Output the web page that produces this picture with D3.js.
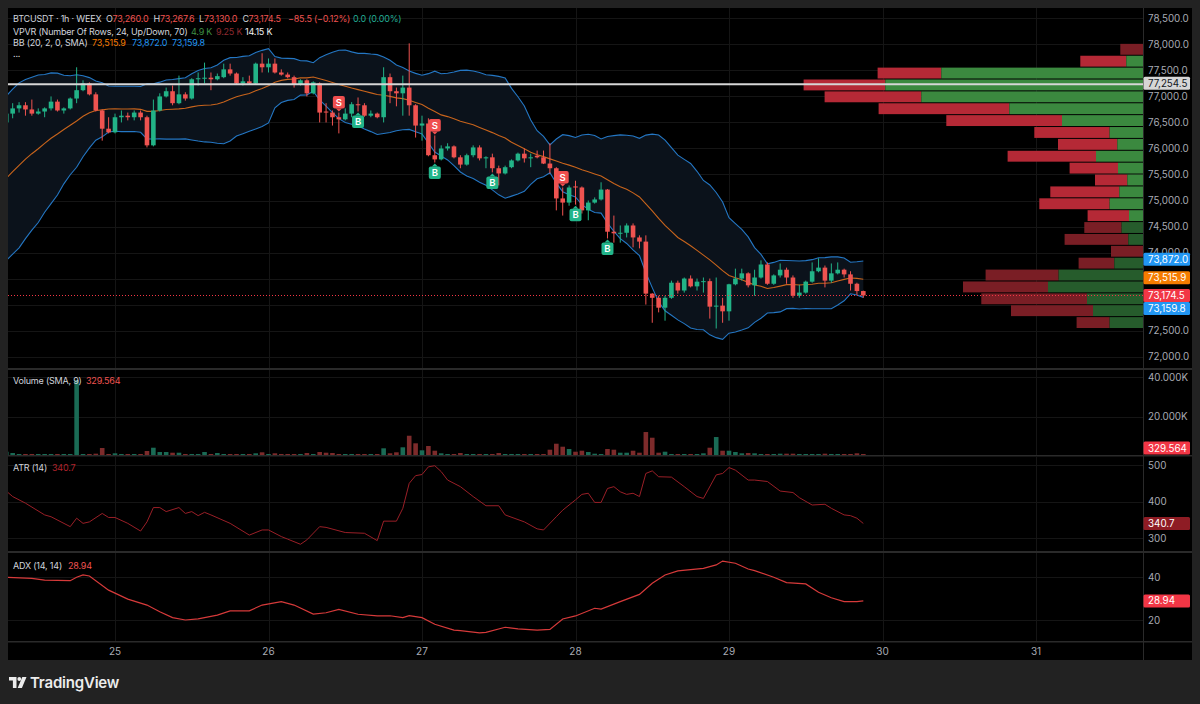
<!DOCTYPE html>
<html>
<head>
<meta charset="utf-8">
<script src="https://cdn.jsdelivr.net/npm/d3@7"></script>
<style>
  html, body { margin: 0; padding: 0; background: #222; }
  svg { display: block; font-family: Inter, "Noto Sans", sans-serif; }
</style>
</head>
<body>
<svg id="chart" width="1200" height="704"></svg>
<script>
// ---- data ----
// hourly candles, first one is the 24th 07:00
const opens = [76500,76670,76770,76830,76750,76670,76710,76770,76900,76730,76770,76960,77120,77250,77040,76730,76380,76310,76600,76630,
  76600,76690,76600,76060,76730,77000,77100,76870,77040,76960,77330,77340,77360,77330,77370,77520,77440,77250,77290,77250,
  77630,77560,77630,77460,77420,77370,77230,77310,77060,77250,76710,76690,76600,76560,76670,76850,76830,76630,76670,76600,
  77370,77100,77060,77170,76830,76440,76480,75870,75790,76000,76040,75830,75690,75870,76020,75810,75830,75620,75520,75640,
  75770,75900,75810,75860,75830,75710,75620,75040,74960,75270,75250,74810,74960,75020,75210,74400,74370,74380,74520,74290,
  74210,73210,73130,72940,73130,73420,73270,73500,73350,73440,73450,72960,72980,72870,73390,73500,73600,73370,73520,73770,
  73400,73560,73670,73520,73170,73230,73440,73640,73710,73460,73600,73670,73580,73400,73260];
const highs = [76730,76870,76890,76890,76940,76770,76790,77000,76940,76790,76980,77560,77310,77270,77080,76750,76600,76670,76730,76690,
  76730,76730,76630,76940,77060,77170,77210,77400,77080,77350,77460,77650,77460,77440,77630,77630,77460,77370,77400,77650,
  77830,77730,77730,77520,77460,77400,77330,77330,77290,77270,76870,76730,76690,76770,76890,76980,76870,76730,76690,77560,
  77440,77170,77400,78020,76850,76630,76580,76250,76060,76100,76060,75870,75900,76060,76060,75850,75900,75670,75670,75790,
  75920,76000,75900,75960,75960,76100,75640,75250,75290,75380,75270,75000,75060,75350,75220,74710,74520,74560,74560,74330,
  74330,73220,73170,73170,73460,73460,73520,73560,73500,73520,73500,73520,73130,73400,73690,73690,73620,73670,73850,73810,
  73580,73790,73710,73560,73380,73460,73810,73890,73750,73790,73810,73690,73640,73420,73267.6];
const lows = [76460,76580,76690,76630,76630,76650,76600,76730,76710,76670,76750,76870,77100,77020,76710,76150,76290,76290,76500,76540,
  76540,76540,76020,76040,76710,76980,76830,76850,76920,76940,77210,77250,77120,77310,77350,77400,77230,77210,77230,77230,
  77460,77460,77440,77400,77350,77170,77210,77000,77040,76500,76500,76440,76290,76540,76600,76710,76610,76600,76580,76500,
  76870,76810,76630,76630,76210,76150,75850,75730,75770,75960,75810,75620,75670,75830,75770,75620,75540,75290,75500,75620,
  75750,75730,75640,75810,75700,75520,74810,74710,74900,74920,74750,74620,74940,75000,74270,74190,74190,74290,74100,74080,
  73000,72650,72850,72690,73110,73210,73230,73330,73270,73230,72730,72540,72650,72690,73370,73460,73330,73170,73500,73380,
  73380,73520,73400,73130,73130,73210,73420,73620,73330,73420,73580,73520,73270,73190,73130];
const closes = [76670,76770,76830,76750,76670,76710,76770,76900,76730,76770,76960,77120,77250,77040,76730,76380,76310,76600,76630,76600,
  76690,76600,76060,76730,77000,77100,76870,77040,76960,77330,77350,77360,77330,77390,77520,77440,77250,77290,77250,77630,
  77560,77630,77460,77420,77370,77230,77310,77060,77270,76690,76690,76600,76560,76670,76850,76830,76630,76670,76600,77370,
  77100,77060,77170,76830,76440,76480,75870,75790,76000,76040,75830,75690,75870,76020,75810,75830,75620,75520,75640,75770,
  75900,75810,75830,75830,75710,75620,75040,74960,75250,75250,74810,74960,75020,75210,74400,74370,74380,74520,74290,74210,
  73210,73130,72940,73130,73420,73270,73500,73350,73440,73450,72960,72980,72870,73390,73500,73600,73370,73520,73770,73400,
  73560,73670,73520,73170,73230,73440,73640,73710,73460,73600,73670,73580,73400,73260,73174.5];
const volumes = [2180,1520,860,660,860,660,510,660,660,660,660,38500,1015,1015,1170,4060,860,1370,1015,660,
  660,860,2540,4210,2030,2030,1675,1675,1015,1015,1015,2030,1015,1520,1015,660,660,860,660,1370,
  1880,860,1370,510,860,860,660,1520,660,2030,1675,1520,860,660,660,1015,1015,660,660,3910,
  1370,1880,4420,10300,6450,2890,5080,2690,1370,660,660,1520,860,860,1015,860,1015,1520,860,860,
  1015,860,860,660,660,3200,6240,4720,3550,2180,2690,2030,1170,1015,3550,3200,1675,1675,2690,1675,
  12180,9290,1675,2180,1015,1015,860,1015,860,1370,4210,9640,2690,2690,2030,1370,1520,1370,1015,1015,
  660,1170,1170,1170,660,860,860,860,1170,1015,660,660,860,1370,329.564];
// closes before the visible window, only used to warm up the Bollinger bands
const warmupCloses = [74250,74400,74350,74600,74800,74700,74950,75100,75050,75300,75500,75400,75700,75900,76100,76000,76500,76700,76600];

// buy / sell signal markers (candle index)
const sellAt = [52, 67, 87];
const buyAt = [55, 67, 76, 89, 94];

// ATR (14) and ADX (14, 14) read at candle indices
const atrIdx = [0,1,3,6,7,10,11,12,13,15,16,17,19,21,22,23,24,25,27,28,29,30,31,32,35,38,40,41,43,44,46,47,49,50,53,56,58,59,61,62,63,64,65,66,67,68,69,71,73,75,77,78,81,83,84,86,87,89,90,91,92,93,94,95,96,97,98,99,100,101,102,104,106,108,109,111,112,113,114,116,117,119,121,123,124,126,128,129,131,132,133,134];
const atrVal = [429,414,396,364,359,332,355,341,345,368,357,357,341,320,345,384,384,373,384,368,373,362,371,364,341,309,323,323,305,298,284,296,332,330,316,314,294,347,347,382,450,471,474,495,498,482,459,441,414,389,389,364,345,326,323,359,377,405,420,423,398,398,436,441,427,420,423,414,477,484,468,467,441,414,409,473,477,493,486,459,459,455,429,425,411,391,393,382,364,362,355,340.7];
const adxIdx = [0,4,6,10,11,12,13,16,19,22,24,26,28,30,33,35,38,40,43,45,48,50,52,55,58,60,62,63,65,67,70,71,74,75,78,80,83,85,87,89,92,93,96,99,101,103,105,109,111,112,114,116,117,120,122,125,127,129,131,133,134];
const adxVal = [40,39.5,38.7,38.4,40,41.1,40.6,34,29.8,27,23.9,21.1,20,20.5,22.3,24.3,24.3,27,28.6,27,22.8,23.4,25,22.7,21.9,22,21.1,22,21.1,18,15.3,15,14,14.2,16.6,15.8,15.3,15.6,20.5,21.9,25.5,25.1,28.6,32,37.2,41.1,43,44.2,45.8,47.6,46.6,43.9,43.1,40,37.5,36.9,33,30.4,28.6,28.6,28.94];

// VPVR, 24 rows from top to bottom
const vpUp = [0,167,2017,2577,2217,1337,810,334,257,470,250,157,237,334,140,214,147,0,287,844,950,560,500,334];
const vpDown = [227,460,637,817,967,1307,1157,753,593,884,484,323,690,703,414,373,637,320,357,730,850,1057,820,330];
const vaRows = [1, 14];
const pocPrice = 77254.5;
const bbLegend = [73515.9, 73872.0, 73159.8];
const vpvrLegend = ["4.9 K", "9.25 K", "14.15 K"];
const volLegend = 329.564;

const priceTicks = d3.range(72000, 78501, 500);
const dayTicks = d3.range(25, 32);

// ---- layout ----
const X0 = 8, X1 = 1143, XR = 1192;
const mainP = [8, 368], volP = [370, 455], atrP = [457, 551], adxP = [553, 641];
const UP = "#22b387", DOWN = "#ef5350";
const AXIS_TXT = "#a7aab3";
const GRID = "#151515";

const svg = d3.select("#chart");
svg.append("rect").attr("width", 1200).attr("height", 704).attr("fill", "#222");
svg.append("rect").attr("x", X0).attr("y", 8).attr("width", XR - X0).attr("height", 652).attr("fill", "#000");

const t0 = Date.UTC(2025, 2, 24, 7);
const times = closes.map((d, i) => new Date(t0 + i * 36e5));
const x = d3.scaleUtc()
  .domain([Date.UTC(2025, 2, 25), Date.UTC(2025, 2, 31)])
  .range([115, 1036]);
const y = d3.scaleLinear().domain([72000, 78000]).range([356.6, 44.4]);
const yVol = d3.scaleLinear().domain([0, 40000]).range([456, 377.3]);
const yAtr = d3.scaleLinear().domain([300, 500]).range([538.4, 465]);
const yAdx = d3.scaleLinear().domain([20, 40]).range([620, 577.3]);

const defs = svg.append("defs");
function clip(id, p) {
  defs.append("clipPath").attr("id", id)
    .append("rect").attr("x", X0).attr("y", p[0]).attr("width", X1 - X0).attr("height", p[1] - p[0]);
  return svg.append("g").attr("clip-path", `url(#${id})`);
}

// grid
const dayX = dayTicks.map(d => x(new Date(Date.UTC(2025, 2, d))));
[mainP, volP, atrP, adxP].forEach(p => {
  svg.selectAll(null).data(dayX).enter().append("line")
    .attr("x1", d => Math.round(d) + 0.5).attr("x2", d => Math.round(d) + 0.5)
    .attr("y1", p[0]).attr("y2", p[1]).attr("stroke", GRID);
});
function hgrid(vals, sc) {
  svg.selectAll(null).data(vals).enter().append("line")
    .attr("x1", X0).attr("x2", X1)
    .attr("y1", d => Math.round(sc(d)) + 0.5).attr("y2", d => Math.round(sc(d)) + 0.5)
    .attr("stroke", GRID);
}
hgrid(priceTicks, y);
hgrid([20000, 40000], yVol);
hgrid([300, 400, 500], yAtr);
hgrid([20, 40], yAdx);

// ---- main pane ----
const gMain = clip("cMain", mainP);

// Bollinger bands (20, 2)
const allCloses = warmupCloses.concat(closes);
const bb = closes.map((c, i) => {
  const w = allCloses.slice(i, i + 20);
  const m = d3.mean(w);
  const sd = Math.sqrt(d3.mean(w, v => (v - m) ** 2));
  return { t: times[i], m: m, up: m + 2 * sd, lo: m - 2 * sd };
});
gMain.append("path").datum(bb)
  .attr("d", d3.area().x(d => x(d.t)).y0(d => y(d.lo)).y1(d => y(d.up)))
  .attr("fill", "#0b121b");
[["up", "#2477c4"], ["lo", "#2477c4"], ["m", "#c8641c"]].forEach(([k, col]) => {
  gMain.append("path").datum(bb)
    .attr("d", d3.line().x(d => x(d.t)).y(d => y(d[k])))
    .attr("fill", "none").attr("stroke", col).attr("stroke-width", 1.1);
});

// VPVR
const pHi = d3.max(highs), pLo = d3.min(lows);
const rowStep = (pHi - pLo) / vpUp.length;
const vpTotal = vpUp.map((u, i) => u + vpDown[i]);
const vpX = d3.scaleLinear().domain([0, d3.max(vpTotal)]).range([0, 339.4]);
const rows = vpUp.map((u, i) => ({
  i, up: u, down: vpDown[i],
  top: y(pHi - i * rowStep), bot: y(pHi - (i + 1) * rowStep),
  inVA: i >= vaRows[0] && i <= vaRows[1]
}));
const gVp = gMain.append("g");
gVp.selectAll(".vpd").data(rows).enter().append("rect")
  .attr("x", d => X1 - vpX(d.up + d.down)).attr("width", d => vpX(d.down))
  .attr("y", d => d.top + 0.5).attr("height", d => d.bot - d.top - 1)
  .attr("fill", d => d.inVA ? "#b52936" : "#7a1e25");
gVp.selectAll(".vpu").data(rows).enter().append("rect")
  .attr("x", d => X1 - vpX(d.up)).attr("width", d => vpX(d.up))
  .attr("y", d => d.top + 0.5).attr("height", d => d.bot - d.top - 1)
  .attr("fill", d => d.inVA ? "#3b893f" : "#265c2c");

// candles
const candles = closes.map((c, i) => ({ t: times[i], o: opens[i], h: highs[i], l: lows[i], c: c }));
const last = candles[candles.length - 1];
const bw = 4.6;
const gC = gMain.append("g");
gC.selectAll("line").data(candles).enter().append("line")
  .attr("x1", d => x(d.t)).attr("x2", d => x(d.t))
  .attr("y1", d => y(d.h)).attr("y2", d => y(d.l))
  .attr("stroke", d => d.c >= d.o ? UP : DOWN).attr("stroke-width", 1);
gC.selectAll("rect").data(candles).enter().append("rect")
  .attr("x", d => x(d.t) - bw / 2).attr("width", bw)
  .attr("y", d => y(Math.max(d.o, d.c)))
  .attr("height", d => Math.max(1, Math.abs(y(d.o) - y(d.c))))
  .attr("fill", d => d.c >= d.o ? UP : DOWN);

// signal markers
function marker(i, kind) {
  const cx = x(times[i]);
  const sell = kind === "S";
  const tip = sell ? y(highs[i]) - 1 : y(lows[i]) + 1;
  const g = gMain.append("g").attr("transform", `translate(${cx},${tip})`);
  const col = sell ? "#ef4f4f" : "#22b58a";
  const dir = sell ? -1 : 1;
  g.append("path").attr("d", `M-3,${3 * dir}L0,0L3,${3 * dir}Z`).attr("fill", col);
  g.append("rect").attr("x", -6).attr("y", sell ? -15.5 : 3).attr("width", 12).attr("height", 12.5)
    .attr("rx", 2).attr("fill", col);
  g.append("text").attr("x", 0).attr("y", sell ? -5.5 : 12.8).attr("text-anchor", "middle")
    .attr("font-size", 9.5).attr("font-weight", 600).attr("fill", "#fff").text(kind);
}
sellAt.forEach(i => marker(i, "S"));
buyAt.forEach(i => marker(i, "B"));

// POC line and last price line
gMain.append("line").attr("x1", X0).attr("x2", X1)
  .attr("y1", y(pocPrice) + 1).attr("y2", y(pocPrice) + 1)
  .attr("stroke", "#d6d6d6").attr("stroke-width", 2);
gMain.append("line").attr("x1", X0).attr("x2", X1)
  .attr("y1", Math.round(y(last.c)) + 0.5).attr("y2", Math.round(y(last.c)) + 0.5)
  .attr("stroke", "#f23645").attr("stroke-dasharray", "1,2");

// ---- volume pane ----
const gVol = clip("cVol", volP);
gVol.selectAll("rect").data(candles).enter().append("rect")
  .attr("x", d => x(d.t) - bw / 2).attr("width", bw)
  .attr("y", (d, i) => Math.min(yVol(volumes[i]), 454))
  .attr("height", (d, i) => Math.max(1, 455 - Math.min(yVol(volumes[i]), 454)))
  .attr("fill", d => d.c >= d.o ? "#1a6b55" : "#7d2b2b");

// ---- ATR / ADX panes ----
const gAtr = clip("cAtr", atrP);
gAtr.append("path").datum(atrIdx.map((k, j) => [times[k], atrVal[j]]))
  .attr("d", d3.line().x(d => x(d[0])).y(d => yAtr(d[1])))
  .attr("fill", "none").attr("stroke", "#9a1f27").attr("stroke-width", 1);
const gAdx = clip("cAdx", adxP);
gAdx.append("path").datum(adxIdx.map((k, j) => [times[k], adxVal[j]]))
  .attr("d", d3.line().x(d => x(d[0])).y(d => yAdx(d[1])))
  .attr("fill", "none").attr("stroke", "#d63a3a").attr("stroke-width", 1.2);

// ---- separators ----
[[368, 2], [455, 1.5], [551, 2], [641, 1.5]].forEach(([yy, h]) => {
  svg.append("rect").attr("x", X0).attr("y", yy).attr("width", XR - X0).attr("height", h).attr("fill", "#2a2a2a");
});
svg.append("rect").attr("x", X1).attr("y", 8).attr("width", 1).attr("height", 652).attr("fill", "#2a2a2a");

// ---- right axes ----
const fmt1 = d3.format(",.1f");
const priceBoxes = [
  { v: pocPrice, bg: "#d6d6d6", fg: "#131722" },
  { v: bbLegend[1], bg: "#2196f3", fg: "#fff" },
  { v: bbLegend[0], bg: "#f57c00", fg: "#fff" },
  { v: last.c, bg: "#f23645", fg: "#fff" },
  { v: bbLegend[2], bg: "#2196f3", fg: "#fff" }
].map(d => Object.assign(d, { cy: y(d.v) }))
  .sort((a, b) => a.cy - b.cy);
priceBoxes.forEach((d, i) => {
  if (i > 0) d.cy = Math.max(d.cy, priceBoxes[i - 1].cy + 13);
});

function axisLabels(vals, sc, f) {
  svg.selectAll(null).data(vals).enter().append("text")
    .attr("x", 1148).attr("y", d => sc(d) + 3.5)
    .attr("font-size", 9.8).attr("fill", AXIS_TXT).text(f);
}
// tick labels fully under a price box are not drawn
axisLabels(priceTicks.filter(p => !priceBoxes.some(b => Math.abs(b.cy - y(p)) < 6)), y, fmt1);
axisLabels([20000, 40000], yVol, d => d3.format(",.3f")(d / 1000).replace(",", ".") + "K");
axisLabels([300, 400, 500], yAtr, d => d);
axisLabels([20, 40], yAdx, d => d);

function box(cy, label, bg, fg) {
  svg.append("rect").attr("x", 1143.5).attr("y", cy - 6.5).attr("width", 46.5).attr("height", 13)
    .attr("rx", 1.5).attr("fill", bg);
  svg.append("text").attr("x", 1148).attr("y", cy + 3.5).attr("font-size", 9.8).attr("fill", fg).text(label);
}
priceBoxes.forEach(d => box(d.cy, fmt1(d.v), d.bg, d.fg));
box(Math.min(yVol(volLegend), volP[1] - 7), d3.format(".3f")(volLegend), "#f23645", "#fff");
box(yAtr(atrVal[atrVal.length - 1]), d3.format(".1f")(atrVal[atrVal.length - 1]), "#8e1c24", "#fff");
box(yAdx(adxVal[adxVal.length - 1]), d3.format(".2f")(adxVal[adxVal.length - 1]), "#f23645", "#fff");

// ---- time axis ----
svg.selectAll(null).data(dayTicks).enter().append("text")
  .attr("x", d => x(new Date(Date.UTC(2025, 2, d)))).attr("y", 655)
  .attr("text-anchor", "middle").attr("font-size", 10).attr("fill", AXIS_TXT).text(d => d);

// ---- legends ----
const LIGHT = "#d1d4dc";
function legend(yy, parts) {
  const t = svg.append("text").attr("y", yy).attr("font-size", 9).attr("letter-spacing", -0.2);
  parts.forEach(([txt, col, xx]) => {
    t.append("tspan").attr("x", xx).attr("fill", col).text(txt);
  });
}
const prevClose = closes[closes.length - 2];
const chg = last.c - prevClose;
const minus = v => (v < 0 ? "\u2212" : "") + Math.abs(v);
legend(21.5, [
  ["BTCUSDT \u00b7 1h \u00b7 WEEX", LIGHT, 13],
  ["O", LIGHT, 106], [fmt1(last.o), DOWN, 112.5],
  ["H", LIGHT, 153.5], [fmt1(last.h), DOWN, 160],
  ["L", LIGHT, 199], [fmt1(last.l), DOWN, 204],
  ["C", LIGHT, 242.5], [fmt1(last.c), DOWN, 248.5],
  [minus(+chg.toFixed(1)) + " (" + minus(+(chg / prevClose * 100).toFixed(2)) + "%)", DOWN, 288],
  ["0.0 (0.00%)", "#22ab94", 353]
]);
legend(34.5, [
  ["VPVR (Number Of Rows, 24, Up/Down, 70)", LIGHT, 13],
  [vpvrLegend[0], "#3f8f44", 191], [vpvrLegend[1], "#8e2a30", 216], [vpvrLegend[2], "#f0f0f0", 245]
]);
legend(46, [
  ["BB (20, 2, 0, SMA)", LIGHT, 13],
  [fmt1(bbLegend[0]), "#f57c00", 92], [fmt1(bbLegend[1]), "#2196f3", 132], [fmt1(bbLegend[2]), "#2196f3", 172]
]);
legend(57, [["...", LIGHT, 13]]);
legend(384, [["Volume (SMA, 9)", LIGHT, 13], [d3.format(".3f")(volLegend), DOWN, 86]]);
legend(470.5, [["ATR (14)", LIGHT, 13], [d3.format(".1f")(atrVal[atrVal.length - 1]), "#b0232c", 52]]);
legend(568.5, [["ADX (14, 14)", LIGHT, 13], [d3.format(".2f")(adxVal[adxVal.length - 1]), DOWN, 68]]);

// ---- TradingView logo ----
const logo = svg.append("g").attr("fill", "#ececec");
logo.append("path").attr("d", "M9,677h7.5v11h-3.6v-7.4H9Z");
logo.append("circle").attr("cx", 19.3).attr("cy", 679).attr("r", 1.9);
logo.append("path").attr("d", "M22.3,677h4.2l-4.6,11h-4.2Z");
svg.append("text").attr("x", 30).attr("y", 688).attr("font-size", 15).attr("font-weight", 600)
  .attr("fill", "#ececec").attr("letter-spacing", -0.2).text("TradingView");
</script>
</body>
</html>
